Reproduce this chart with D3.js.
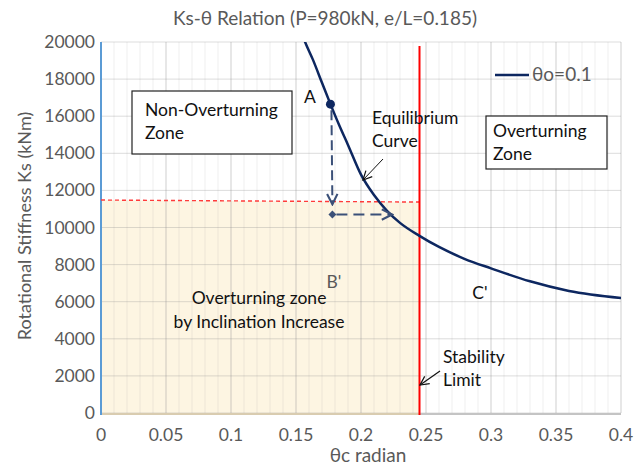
<!DOCTYPE html>
<html>
<head>
<meta charset="utf-8">
<script src="https://cdn.jsdelivr.net/npm/d3@7"></script>
<style>
  body { margin: 0; background: #fff; }
  svg text { font-family: Lato, "Open Sans", sans-serif; }
</style>
</head>
<body>
<svg id="chart" width="642" height="468"></svg>
<script>
// equilibrium curve (theta_o = 0.1)
const thetaVals = [0.150, 0.157, 0.163, 0.170, 0.1765, 0.183, 0.190, 0.200, 0.210, 0.220, 0.230, 0.245, 0.260, 0.280, 0.300, 0.330, 0.360, 0.400];
const ksVals    = [21400, 20000, 19050, 17800, 16650, 15550, 14450, 12850, 11750, 10900, 10250, 9550, 8950, 8300, 7800, 7100, 6580, 6200];

const xTicks = [0, 0.05, 0.1, 0.15, 0.2, 0.25, 0.3, 0.35, 0.4];
const xMinor = d3.range(0, 0.4001, 0.01);
const yTicks = d3.range(0, 20001, 2000);

const stabilityTheta = 0.245;
const limitKs = [11480, 11370];        // red dashed line, left / right end
const pointA = [0.1765, 16650];
const pointB = [0.178, 10700];
const arrowDown = [0.178, 11250];
const arrowRight = [0.224, 10700];

const W = 642, H = 468;
const m = { left: 101, right: 21, top: 42, bottom: 55 };
const iw = W - m.left - m.right, ih = H - m.top - m.bottom;
const FS = 17.5;

const svg = d3.select('#chart');
const x = d3.scaleLinear().domain([0, 0.4]).range([m.left, m.left + iw]);
const y = d3.scaleLinear().domain([0, 20000]).range([m.top + ih, m.top]);

const defs = svg.append('defs');
defs.append('clipPath').attr('id', 'plot-clip')
  .append('rect').attr('x', m.left).attr('y', m.top).attr('width', iw).attr('height', ih);

function chevron(id, color, size, sw) {
  defs.append('marker').attr('id', id)
    .attr('viewBox', '0 0 10 10').attr('refX', 9).attr('refY', 5)
    .attr('markerWidth', size).attr('markerHeight', size)
    .attr('markerUnits', 'userSpaceOnUse').attr('orient', 'auto')
    .append('path').attr('d', 'M1,1 L9,5 L1,9')
    .attr('fill', 'none').attr('stroke', color).attr('stroke-width', sw);
}
chevron('arr-blue', '#3b5078', 13, 1.6);
chevron('arr-black', '#111', 11, 1.1);

// shaded zone: overturning by inclination increase
svg.append('path')
  .datum([[0, 0], [0, limitKs[0]], [stabilityTheta, limitKs[1]], [stabilityTheta, 0]])
  .attr('d', d3.line().x(d => x(d[0])).y(d => y(d[1])))
  .attr('fill', '#fdf5e2');

// grid
const grid = svg.append('g');
grid.selectAll('.minor').data(xMinor).enter().append('line')
  .attr('x1', d => x(d)).attr('x2', d => x(d))
  .attr('y1', m.top).attr('y2', m.top + ih)
  .attr('stroke', 'rgba(150,150,150,0.16)').attr('stroke-width', 1);
grid.selectAll('.major').data(xTicks).enter().append('line')
  .attr('x1', d => x(d)).attr('x2', d => x(d))
  .attr('y1', m.top).attr('y2', m.top + ih)
  .attr('stroke', 'rgba(140,140,140,0.3)').attr('stroke-width', 1);
grid.selectAll('.hmaj').data(yTicks).enter().append('line')
  .attr('x1', m.left).attr('x2', m.left + iw)
  .attr('y1', d => y(d)).attr('y2', d => y(d))
  .attr('stroke', 'rgba(140,140,140,0.3)').attr('stroke-width', 1);

// axes lines
svg.append('line')
  .attr('x1', m.left).attr('x2', m.left + iw)
  .attr('y1', y(0) + 1).attr('y2', y(0) + 1)
  .attr('stroke', '#c4c4c4').attr('stroke-width', 2);
svg.append('line')
  .attr('x1', m.left).attr('x2', x(stabilityTheta))
  .attr('y1', y(0) + 1).attr('y2', y(0) + 1)
  .attr('stroke', '#d9ccb0').attr('stroke-width', 2);
svg.append('line')
  .attr('x1', m.left).attr('x2', m.left)
  .attr('y1', m.top).attr('y2', y(0) + 2)
  .attr('stroke', '#5b9bd5').attr('stroke-width', 2);

// tick labels
svg.append('g').selectAll('text').data(xTicks).enter().append('text')
  .attr('x', d => x(d)).attr('y', 441)
  .attr('text-anchor', 'middle').attr('font-size', FS).attr('fill', '#595959')
  .text(d => d3.format('~g')(d));
svg.append('g').selectAll('text').data(yTicks).enter().append('text')
  .attr('x', 95).attr('y', d => y(d) + 6)
  .attr('text-anchor', 'end').attr('font-size', FS).attr('fill', '#595959')
  .text(d => d);

// titles
svg.append('text').attr('x', 325).attr('y', 25).attr('text-anchor', 'middle')
  .attr('font-size', 19).attr('fill', '#595959')
  .text('Ks-θ Relation (P=980kN, e/L=0.185)');
svg.append('text').attr('x', 368).attr('y', 462).attr('text-anchor', 'middle')
  .attr('font-size', 19).attr('fill', '#595959').text('θc radian');
svg.append('text').attr('transform', 'translate(31,226) rotate(-90)')
  .attr('text-anchor', 'middle').attr('font-size', 18).attr('fill', '#595959')
  .text('Rotational Stiffness  Ks (kNm)');

// red dashed limit line and stability limit
svg.append('line')
  .attr('x1', x(0)).attr('y1', y(limitKs[0]))
  .attr('x2', x(stabilityTheta) + 3).attr('y2', y(limitKs[1]))
  .attr('stroke', '#ff3b3b').attr('stroke-width', 1.4).attr('stroke-dasharray', '4,3');
svg.append('line')
  .attr('x1', x(stabilityTheta)).attr('x2', x(stabilityTheta))
  .attr('y1', m.top + 4).attr('y2', y(0) + 2)
  .attr('stroke', '#ff0000').attr('stroke-width', 2);

// equilibrium curve
svg.append('path')
  .datum(thetaVals.map((t, i) => [t, ksVals[i]]))
  .attr('clip-path', 'url(#plot-clip)')
  .attr('d', d3.line().x(d => x(d[0])).y(d => y(d[1])).curve(d3.curveMonotoneX))
  .attr('fill', 'none').attr('stroke', '#0d2760').attr('stroke-width', 2.5);

// A -> B' path
svg.append('line')
  .attr('x1', x(pointA[0]) + 1).attr('y1', y(pointA[1]) + 6)
  .attr('x2', x(arrowDown[0])).attr('y2', y(arrowDown[1]))
  .attr('stroke', '#3b5078').attr('stroke-width', 2).attr('stroke-dasharray', '10,5')
  .attr('marker-end', 'url(#arr-blue)');
svg.append('line')
  .attr('x1', x(pointB[0]) + 4).attr('y1', y(pointB[1]))
  .attr('x2', x(arrowRight[0])).attr('y2', y(arrowRight[1]))
  .attr('stroke', '#3b5078').attr('stroke-width', 2).attr('stroke-dasharray', '11,6')
  .attr('marker-end', 'url(#arr-blue)');
svg.append('circle')
  .attr('cx', x(pointA[0])).attr('cy', y(pointA[1])).attr('r', 4.5)
  .attr('fill', '#0d2760');
svg.append('path')
  .attr('transform', `translate(${x(pointB[0])},${y(pointB[1])})`)
  .attr('d', d3.symbol(d3.symbolDiamond2, 40)())
  .attr('fill', '#3b5078');

// legend
svg.append('line').attr('x1', 495).attr('x2', 529).attr('y1', 75).attr('y2', 75)
  .attr('stroke', '#0d2760').attr('stroke-width', 2.5);
svg.append('text').attr('x', 532).attr('y', 81).attr('font-size', 19)
  .attr('fill', '#595959').text('θo=0.1');

// boxed zone labels
const boxes = [
  { x0: 132, y0: 91, x1: 292, y1: 154, lines: ['Non-Overturning', 'Zone'], tx: 145, ty: 116 },
  { x0: 486, y0: 116, x1: 607, y1: 169, lines: ['Overturning', 'Zone'], tx: 493, ty: 137 }
];
boxes.forEach(b => {
  svg.append('rect').attr('x', b.x0).attr('y', b.y0)
    .attr('width', b.x1 - b.x0).attr('height', b.y1 - b.y0)
    .attr('fill', '#fff').attr('stroke', '#222').attr('stroke-width', 1.2);
  b.lines.forEach((s, i) => svg.append('text')
    .attr('x', b.tx).attr('y', b.ty + i * 23).attr('font-size', FS)
    .attr('fill', '#111').text(s));
});

// annotations
const notes = [
  { x: 310, y: 103, s: 'A', a: 'middle', c: '#111' },
  { x: 334, y: 288, s: "B'", a: 'middle', c: '#595959' },
  { x: 480, y: 299, s: "C'", a: 'middle', c: '#111' },
  { x: 372, y: 124, s: 'Equilibrium', a: 'start', c: '#111' },
  { x: 372, y: 147, s: 'Curve', a: 'start', c: '#111' },
  { x: 259, y: 304, s: 'Overturning zone', a: 'middle', c: '#111' },
  { x: 259, y: 328, s: 'by Inclination Increase', a: 'middle', c: '#111' },
  { x: 443, y: 363, s: 'Stability', a: 'start', c: '#111' },
  { x: 443, y: 386, s: 'Limit', a: 'start', c: '#111' }
];
svg.append('g').selectAll('text').data(notes).enter().append('text')
  .attr('x', d => d.x).attr('y', d => d.y).attr('text-anchor', d => d.a)
  .attr('font-size', FS).attr('fill', d => d.c).text(d => d.s);

svg.append('line').attr('x1', 383).attr('y1', 159).attr('x2', 363).attr('y2', 180)
  .attr('stroke', '#111').attr('stroke-width', 1).attr('marker-end', 'url(#arr-black)');
svg.append('line').attr('x1', 440).attr('y1', 371).attr('x2', 420).attr('y2', 385)
  .attr('stroke', '#111').attr('stroke-width', 1.2).attr('marker-end', 'url(#arr-black)');
</script>
</body>
</html>
